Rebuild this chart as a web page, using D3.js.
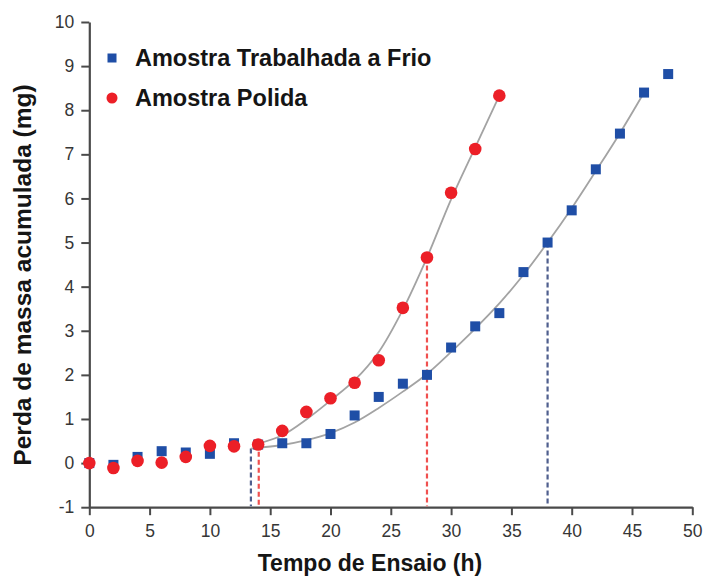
<!DOCTYPE html>
<html>
<head>
<meta charset="utf-8">
<script src="https://cdn.jsdelivr.net/npm/d3@7"></script>
<style>
  body { margin: 0; background: #fff; }
  svg text { font-family: Arial, "Liberation Sans", sans-serif; }
</style>
</head>
<body>
<svg id="chart" width="705" height="579"></svg>
<script>
// measured points (h, mg)
const hoursFrio = [0, 2, 4, 6, 8, 10, 12, 14, 16, 18, 20, 22, 24, 26, 28, 30, 32, 34, 36, 38, 40, 42, 44, 46, 48];
const massFrio = [0.0, -0.04, 0.14, 0.27, 0.24, 0.21, 0.45, 0.42, 0.45, 0.45, 0.66, 1.08, 1.50, 1.80, 2.00, 2.62, 3.10, 3.40, 4.33, 5.00, 5.73, 6.66, 7.47, 8.40, 8.82];
const hoursPolida = [0, 2, 4, 6, 8, 10, 12, 14, 16, 18, 20, 22, 24, 26, 28, 30, 32, 34];
const massPolida = [0.0, -0.11, 0.05, 0.01, 0.14, 0.39, 0.38, 0.42, 0.73, 1.16, 1.47, 1.82, 2.33, 3.52, 4.66, 6.13, 7.12, 8.33];

// fitted curves
const fitHoursFrio = [13.4, 16, 18, 20, 22, 24, 26, 28, 30, 32, 34, 36, 38, 40, 42, 44, 46];
const fitFrio = [0.33, 0.41, 0.52, 0.68, 0.92, 1.25, 1.62, 2.02, 2.52, 3.05, 3.62, 4.27, 5.00, 5.78, 6.62, 7.48, 8.40];
const fitHoursPolida = [14, 16, 18, 20, 22, 24, 26, 28, 30, 32, 34];
const fitPolida = [0.44, 0.63, 0.99, 1.42, 1.88, 2.52, 3.48, 4.66, 5.98, 7.16, 8.33];

// dashed drop lines: [hour, mass, series]
const dropLines = [[13.4, 0.33, "frio"], [14.05, 0.44, "polida"], [28, 4.66, "polida"], [38, 5.0, "frio"]];

const seriesNames = ["Amostra Trabalhada a Frio", "Amostra Polida"];
const xTicks = [0, 5, 10, 15, 20, 25, 30, 35, 40, 45, 50];
const xMinor = [2.5, 7.5, 12.5, 17.5, 22.5, 27.5, 32.5, 37.5, 42.5, 47.5];
const yTicks = [-1, 0, 1, 2, 3, 4, 5, 6, 7, 8, 9, 10];
const yMinor = [-0.5, 0.5, 1.5, 2.5, 3.5, 4.5, 5.5, 6.5, 7.5, 8.5, 9.5];

const blue = "#1f4ea6";
const red = "#ec1f27";
const axisColor = "#4a4a4a";

const svg = d3.select("#chart");

const xScale = d3.scaleLinear().domain([0, 50]).range([89.3, 692.3]);
const yScale = d3.scaleLinear().domain([-1, 10]).range([507.2, 22]);

// plain hyphen for negatives, like the original
const fmt = d => String(d);

// axes
const xAxisG = svg.append("g").attr("transform", `translate(0, ${yScale(-1)})`);
xAxisG.call(d3.axisBottom(xScale).tickValues(xMinor).tickSize(4).tickSizeOuter(0).tickFormat(""));
xAxisG.call(d3.axisBottom(xScale).tickValues(xTicks).tickSize(8).tickSizeOuter(0).tickFormat(fmt));

const yAxisG = svg.append("g").attr("transform", `translate(${xScale(0)}, 0)`);
yAxisG.call(d3.axisLeft(yScale).tickValues(yMinor).tickSize(4).tickSizeOuter(0).tickFormat(""));
yAxisG.call(d3.axisLeft(yScale).tickValues(yTicks).tickSize(8).tickSizeOuter(0).tickFormat(fmt));

svg.selectAll(".domain").attr("stroke", axisColor).attr("stroke-width", 2.2);
svg.selectAll(".tick line").attr("stroke", axisColor).attr("stroke-width", 2);
svg.selectAll(".tick text")
   .attr("fill", "#363636")
   .attr("font-size", 17.5)
   .style("font-family", "Arial, 'Liberation Sans', sans-serif");
xAxisG.selectAll(".tick text").attr("dy", "1.05em");
yAxisG.selectAll(".tick text").attr("x", -15);

// axis titles
svg.append("text")
   .attr("x", 370)
   .attr("y", 571)
   .attr("text-anchor", "middle")
   .attr("font-size", 23)
   .attr("font-weight", "bold")
   .attr("fill", "#151515")
   .text("Tempo de Ensaio (h)");

svg.append("text")
   .attr("transform", "translate(31, 275) rotate(-90)")
   .attr("text-anchor", "middle")
   .attr("font-size", 24.5)
   .attr("font-weight", "bold")
   .attr("fill", "#151515")
   .text("Perda de massa acumulada (mg)");

// dashed drop lines
svg.selectAll(".drop")
   .data(dropLines)
   .enter()
   .append("line")
   .attr("x1", d => xScale(d[0]))
   .attr("x2", d => xScale(d[0]))
   .attr("y1", d => yScale(d[1]))
   .attr("y2", yScale(-1) - 1)
   .attr("stroke", d => d[2] === "frio" ? "#4f5f8e" : "#f0504f")
   .attr("stroke-width", 2.2)
   .attr("stroke-dasharray", "5,3");

// fit curves
const line = d3.line()
               .x(d => xScale(d[0]))
               .y(d => yScale(d[1]))
               .curve(d3.curveCatmullRom);

[[fitHoursFrio, fitFrio], [fitHoursPolida, fitPolida]].forEach(([hs, ms]) => {
  svg.append("path")
     .datum(hs.map((h, i) => [h, ms[i]]))
     .attr("d", line)
     .attr("fill", "none")
     .attr("stroke", "#a3a3a3")
     .attr("stroke-width", 1.8);
});

// markers
const sq = 10;
svg.selectAll(".frio")
   .data(hoursFrio.map((h, i) => [h, massFrio[i]]))
   .enter()
   .append("rect")
   .attr("x", d => xScale(d[0]) - sq / 2)
   .attr("y", d => yScale(d[1]) - sq / 2)
   .attr("width", sq)
   .attr("height", sq)
   .attr("fill", blue);

svg.selectAll(".polida")
   .data(hoursPolida.map((h, i) => [h, massPolida[i]]))
   .enter()
   .append("circle")
   .attr("cx", d => xScale(d[0]))
   .attr("cy", d => yScale(d[1]))
   .attr("r", 6.3)
   .attr("fill", red);

// legend
const legend = svg.append("g").attr("transform", "translate(112, 58)");
legend.append("rect")
      .attr("x", -4.5).attr("y", -4.5)
      .attr("width", 9).attr("height", 9)
      .attr("fill", blue);
legend.append("circle")
      .attr("cx", 0).attr("cy", 40)
      .attr("r", 5.5)
      .attr("fill", red);
legend.selectAll("text")
      .data(seriesNames)
      .enter()
      .append("text")
      .attr("x", 23)
      .attr("y", (d, i) => 8 + i * 40)
      .attr("font-size", 23.5)
      .attr("font-weight", "bold")
      .attr("fill", "#151515")
      .text(d => d);
</script>
</body>
</html>
